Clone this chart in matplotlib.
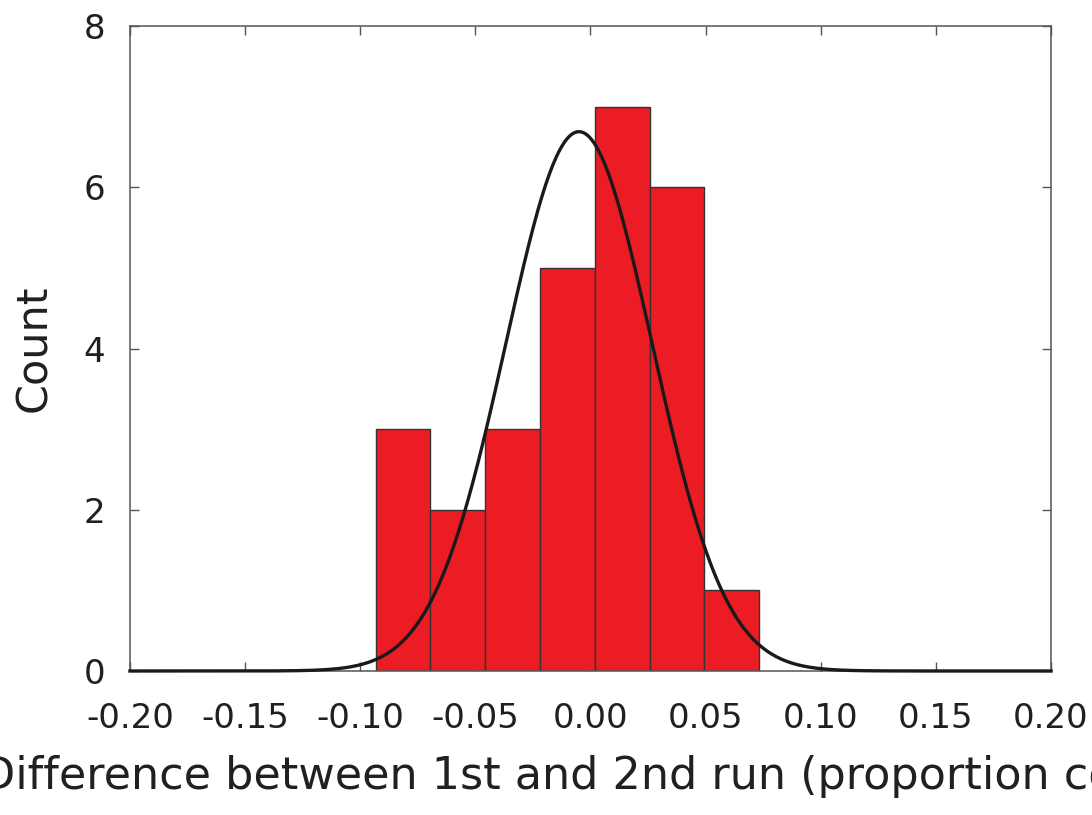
import numpy as np
import matplotlib
matplotlib.use("Agg")
import matplotlib.pyplot as plt

plt.rcParams['font.family'] = ['DejaVu Sans']

# histogram of run-to-run differences
bin_start = -0.0933
bin_width = 0.0238
counts = [3, 2, 3, 5, 7, 6, 1]

# fitted normal curve (peak height, mean, sd)
fit_peak = 6.69
fit_mean = -0.005
fit_sd = 0.0318

xticks = [-0.20, -0.15, -0.10, -0.05, 0.00, 0.05, 0.10, 0.15, 0.20]
yticks = [0, 2, 4, 6, 8]

text_col = '#231f20'
bar_col = '#ec1c24'

fig = plt.figure(figsize=(10.92, 8.15), dpi=100)
ax = fig.add_axes([0.119, 0.1767, 0.8435, 0.7913])

edges = bin_start + bin_width * np.arange(len(counts) + 1)
ax.bar(edges[:-1], counts, width=bin_width, align='edge', color=bar_col,
       edgecolor='#333333', linewidth=1.0, zorder=2)

xs = np.linspace(-0.2, 0.2, 600)
ys = fit_peak * np.exp(-0.5 * ((xs - fit_mean) / fit_sd) ** 2)
ax.plot(xs, ys, color='#1a1a1a', linewidth=2.4, zorder=3, clip_on=False)

ax.set_xlim(-0.2, 0.2)
ax.set_ylim(0, 8)
ax.set_xticks(xticks)
ax.set_xticklabels(['%.2f' % t for t in xticks])
ax.set_yticks(yticks)

for s in ax.spines.values():
    s.set_color('#555555')
    s.set_linewidth(1.1)

ax.tick_params(direction='in', length=6.5, width=1.0, color='#555555',
               top=True, right=True, labelsize=24.5, labelcolor=text_col)
ax.tick_params(axis='x', pad=22)
ax.tick_params(axis='y', pad=18)

ax.set_ylabel('Count', fontsize=31, color=text_col, labelpad=20)
ax.set_xlabel('Difference between 1st and 2nd run (proportion correct)',
              fontsize=32, color=text_col)
# label runs past the figure edges, as in the original figure
ax.xaxis.set_label_coords(0.52, -0.131)
ax.xaxis.label.set_va('top')

fig.savefig('out.png', dpi=100)
